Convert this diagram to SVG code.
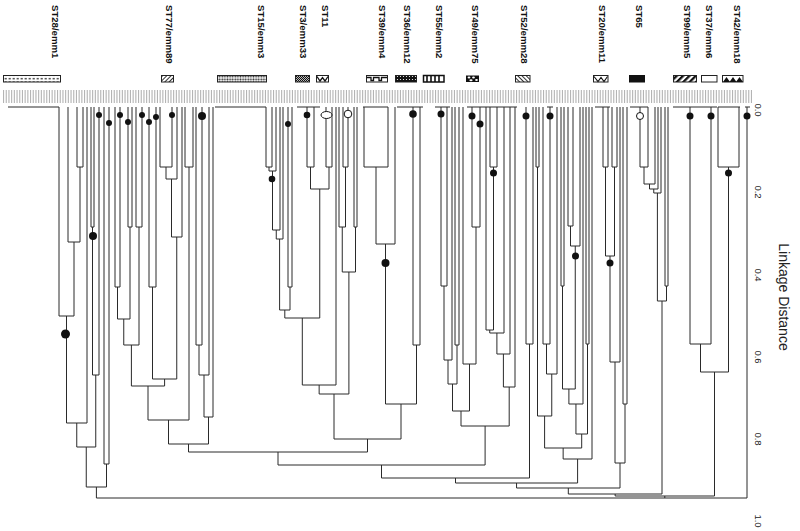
<svg xmlns="http://www.w3.org/2000/svg" width="800" height="531" viewBox="0 0 800 531">
<style>
.t{font-family:"Liberation Sans",Arial,sans-serif;font-weight:bold;font-size:9.6px;fill:#111}
.ax{font-family:"Liberation Sans",Arial,sans-serif;font-size:9.5px;fill:#222}
.lab{font-family:"Liberation Sans",Arial,sans-serif;font-size:14px;fill:#222}
.br{fill:none;stroke:#2a2a2a;stroke-width:1}
.sw{stroke:#222;stroke-width:1}
.dot{fill:#111}
.open{fill:#fff;stroke:#111;stroke-width:1}
</style>
<defs>
<pattern id="pDots" width="4" height="3.5" patternUnits="userSpaceOnUse"><rect width="4" height="3.5" fill="#fff"/><rect x="0.6" y="0.9" width="2.2" height="1.4" fill="#444"/></pattern>
<pattern id="pHatchA" width="3" height="3" patternUnits="userSpaceOnUse" patternTransform="rotate(45)"><rect width="3" height="3" fill="#fff"/><line x1="0.5" y1="0" x2="0.5" y2="3" stroke="#333" stroke-width="1"/></pattern>
<pattern id="pHatchB" width="3" height="3" patternUnits="userSpaceOnUse" patternTransform="rotate(-45)"><rect width="3" height="3" fill="#fff"/><line x1="0.5" y1="0" x2="0.5" y2="3" stroke="#333" stroke-width="1"/></pattern>
<pattern id="pThick" width="4.5" height="4.5" patternUnits="userSpaceOnUse" patternTransform="rotate(45)"><rect width="4.5" height="4.5" fill="#fff"/><rect width="2.3" height="4.5" fill="#111"/></pattern>
<pattern id="pChk" width="2.6" height="2.6" patternUnits="userSpaceOnUse"><rect width="2.6" height="2.6" fill="#fff"/><circle cx="1.3" cy="1.3" r="0.95" fill="#222"/></pattern>
<pattern id="pFine" width="2" height="2" patternUnits="userSpaceOnUse"><rect width="2" height="2" fill="#bbb"/><rect width="1" height="1" fill="#111"/><rect x="1" y="1" width="1" height="1" fill="#111"/></pattern>
<pattern id="pWdots" width="3" height="3" patternUnits="userSpaceOnUse"><rect width="3" height="3" fill="#111"/><circle cx="1.5" cy="1.5" r="0.6" fill="#fff"/></pattern>
</defs>
<rect width="800" height="531" fill="#fff"/>

<g id="titles">
<text class="t" transform="translate(51.5,5) rotate(90)">ST28/emm1</text>
<text class="t" transform="translate(166,5) rotate(90)">ST77/emm89</text>
<text class="t" transform="translate(257.5,5) rotate(90)">ST15/emm3</text>
<text class="t" transform="translate(300,5) rotate(90)">ST3/emm33</text>
<text class="t" transform="translate(321.5,5) rotate(90)">ST11</text>
<text class="t" transform="translate(378.5,5) rotate(90)">ST39/emm4</text>
<text class="t" transform="translate(404,5) rotate(90)">ST36/emm12</text>
<text class="t" transform="translate(435.5,5) rotate(90)">ST55/emm2</text>
<text class="t" transform="translate(471.5,5) rotate(90)">ST49/emm75</text>
<text class="t" transform="translate(520.5,5) rotate(90)">ST52/emm28</text>
<text class="t" transform="translate(598.5,5) rotate(90)">ST20/emm11</text>
<text class="t" transform="translate(635.5,5) rotate(90)">ST65</text>
<text class="t" transform="translate(683.5,5) rotate(90)">ST99/emm5</text>
<text class="t" transform="translate(705.5,5) rotate(90)">ST37/emm6</text>
<text class="t" transform="translate(733.5,5) rotate(90)">ST42/emm18</text>
</g>

<g id="swatches">
<rect class="sw" x="3.5" y="75.5" width="57" height="6.5" fill="url(#pDots)"/>
<rect class="sw" x="161.5" y="75.5" width="12" height="6.5" fill="url(#pHatchA)"/>
<rect class="sw" x="217.5" y="75.5" width="49" height="6.5" fill="url(#pChk)"/>
<rect class="sw" x="295.5" y="75.5" width="14" height="6.5" fill="url(#pFine)"/>
<g id="sw-st11"><rect class="sw" x="316.5" y="75.5" width="12" height="6.5" fill="#fff"/><path d="M317,76.5 L320,81 L322.5,77.5 L325,81 L328,76.5" fill="none" stroke="#111" stroke-width="1.3"/></g>
<g id="sw-st39"><rect class="sw" x="366.5" y="75.5" width="21" height="6.5" fill="#fff"/><path d="M367,77.5 H371 V80.5 H373.5 V77.5 H379 V80.5 H381.5 V77.5 H387" fill="none" stroke="#111" stroke-width="1.3"/></g>
<rect class="sw" x="395.5" y="75.5" width="21" height="6.5" fill="url(#pWdots)"/>
<g id="sw-st55"><rect x="423.5" y="75.5" width="20.5" height="6.5" fill="#fff" stroke="#111" stroke-width="1.5"/><path d="M427,76 V82 M431,76 V82 M435,76 V82 M439,76 V82" stroke="#111" stroke-width="1.6"/></g>
<g id="sw-st49"><rect x="466" y="75.5" width="13" height="6.5" fill="#111"/><ellipse cx="469" cy="77.6" rx="1.4" ry="1" fill="#fff"/><ellipse cx="473.5" cy="77.6" rx="1.4" ry="1" fill="#fff"/><ellipse cx="471" cy="80.2" rx="1.6" ry="1" fill="#fff"/><ellipse cx="476.5" cy="80" rx="1.4" ry="1" fill="#fff"/></g>
<rect class="sw" x="515.5" y="75.5" width="14.5" height="6.5" fill="url(#pHatchB)"/>
<g id="sw-st20"><rect class="sw" x="593.5" y="75.5" width="14.5" height="6.5" fill="#fff"/><path d="M594,76.5 L598,81.5 L601,77.5 L604,81.5 L607.5,76.5" fill="none" stroke="#111" stroke-width="1.1"/></g>
<rect x="629" y="75" width="16" height="7.5" fill="#111"/>
<rect class="sw" x="673.5" y="75.5" width="23" height="6.5" fill="url(#pThick)"/>
<rect class="sw" x="701.5" y="75.5" width="15.5" height="6.5" fill="#fff"/>
<g id="sw-st42"><rect class="sw" x="722.5" y="75.5" width="20.5" height="6.5" fill="#fff"/><path d="M723,82 L726.5,77 L730,82 Z M729.5,82 L733,77 L736.5,82 Z M736,82 L739.5,77 L743,82 Z" fill="#111"/></g>
</g>

<g id="leaf-labels" opacity="0.55">
<line x1="3" y1="96.5" x2="752" y2="96.5" stroke="#777" stroke-width="13" stroke-dasharray="1.1 1.6"/>
</g>

<g id="connectors" class="br">
<path d="M8,107H59 M215,107H266 M297,107H320 M363,107H388 M397,107H423 M435,107H450 M467,107H517 M547,107H553 M595,107H610 M630,107H648 M673,107H700 M700,107H717 M718,107H740 M745,107H750"/>
<path d="M77,107V167H83V107 M68,107V242H80V167 M59,107V316H74V242 M66.5,316V423H87V107 M91,107V227H94V107 M92.5,227V375H99V107 M76.75,423V447H95.75V375 M104,107V464H109V107 M86.25,447V487H106.5V464 M96.4,487V498H747V107"/>
<path d="M115,107V287H120V107 M128,107V227H132V107 M117.5,287V319H130V227 M136,107V227H142V107 M123.75,319V345H139V227 M149,107V287H156V107 M160,107V167H172V107 M166,167V179H177V107 M171.5,179V237H182V107 M152.5,287V379H176.75V237 M131.4,345V386H164.6V379 M185,107V167H193V107 M148,386V420H189V167 M196,107V345H202V107 M199,345V375H209V107 M204,375V417H213V107 M168.5,420V444H208.5V417"/>
<path d="M266,107V167H272V107 M269,167V171H276V107 M272.5,171V230H280V107 M276.25,230V239H283V107 M288,107V287H292V107 M279.6,239V310H290V287 M307,107V167H314V107 M326,107V167H332V107 M310.5,167V189H329V167 M284.8,310V318H319.75V189 M302.3,318V385H336V107 M343,107V167H348V107 M339,107V227H345.5V167 M354,107V227H357V107 M342.25,227V272H355.5V227 M319.15,385V394H348.9V272 M364,107V167H388V107 M376,167V244H395V107 M413,107V345H420V107 M385.5,244V404H416.5V345 M334,394V439H401V404 M188.5,444V452H367.5V439"/>
<path d="M441,107V286H447V107 M444,286V360H452V107 M455,107V345H459V107 M448,360V384H457V345 M472,107V227H480V107 M463,107V364H476V227 M452.5,384V411H469.5V364 M490,107V167H497V107 M486,107V330H493.5V167 M489.75,330V333H504V107 M496.9,333V354H510V107 M503.4,354V387H515V107 M461,411V426H509.2V387 M278,452V465H485.1V426"/>
<path d="M526,107V344H533V107 M381.5,465V478H529.5V344 M536,107V167H539V107 M543,107V344H550V107 M546.5,344V374H557V107 M537.5,167V416H551.75V374 M561,107V286H564V107 M568,107V226H573V107 M570.5,226V246H580V107 M562.5,286V389H575.25V246 M568.9,389V404H583V107 M586,107V344H589V107 M575.95,404V434H587.5V344 M544.6,416V448H581.7V434 M563.15,448V459H592V107 M455.5,478V483H577.6V459"/>
<path d="M603,107V167H608V107 M612,107V167H617V107 M605.5,167V256H614.5V167 M610,256V362H620V107 M623,107V404H627V107 M615,362V463H625V404 M516.55,483V488H620V463"/>
<path d="M640,107V167H648V107 M644,167V184H655V107 M649.5,184V189H658V107 M653.75,189V193H661V107 M665,107V286H668V107 M657.4,193V301H666.5V286 M568.3,488V494H662V301"/>
<path d="M690,107V344H711V107 M718,107V167H739V107 M700.5,344V372H728.5V167 M615.15,494V496H714.5V372 M664.8,496V498"/>
</g>

<g id="markers">
<circle class="dot" cx="99" cy="115" r="3"/>
<circle class="dot" cx="109" cy="123" r="3"/>
<circle class="dot" cx="120" cy="115" r="3"/>
<circle class="dot" cx="128" cy="122" r="3"/>
<circle class="dot" cx="142" cy="115" r="3"/>
<circle class="dot" cx="149" cy="122" r="3"/>
<circle class="dot" cx="156" cy="117" r="3"/>
<circle class="dot" cx="172" cy="115" r="3"/>
<circle class="dot" cx="202" cy="116" r="4"/>
<circle class="dot" cx="93" cy="236" r="4"/>
<circle class="dot" cx="65.5" cy="334" r="4.5"/>
<circle class="dot" cx="272" cy="179" r="3.3"/>
<circle class="dot" cx="288" cy="124" r="3"/>
<circle class="dot" cx="307" cy="115" r="3.3"/>
<ellipse class="open" cx="326.5" cy="115" rx="5.5" ry="3.5"/>
<circle class="open" cx="348" cy="114" r="3.8"/>
<circle class="dot" cx="385.5" cy="263" r="4"/>
<circle class="dot" cx="413" cy="114" r="3.8"/>
<circle class="dot" cx="441" cy="114" r="3.5"/>
<circle class="dot" cx="472" cy="116" r="3.5"/>
<circle class="dot" cx="480" cy="124" r="3.5"/>
<circle class="dot" cx="493.5" cy="173" r="3.5"/>
<circle class="dot" cx="526" cy="116" r="3.5"/>
<circle class="dot" cx="550" cy="116" r="3.5"/>
<circle class="dot" cx="575.5" cy="256" r="3.5"/>
<circle class="dot" cx="610" cy="263" r="3.5"/>
<circle class="open" cx="640" cy="116" r="3.5"/>
<circle class="dot" cx="690" cy="116" r="3.5"/>
<circle class="dot" cx="711" cy="116" r="3.5"/>
<circle class="dot" cx="728.5" cy="173" r="3.5"/>
<circle class="dot" cx="747" cy="116" r="3.5"/>
</g>

<g id="axis">
<text class="ax" text-anchor="middle" transform="translate(755,110) rotate(90)">0.0</text>
<text class="ax" text-anchor="middle" transform="translate(755,192) rotate(90)">0.2</text>
<text class="ax" text-anchor="middle" transform="translate(755,275) rotate(90)">0.4</text>
<text class="ax" text-anchor="middle" transform="translate(755,357) rotate(90)">0.6</text>
<text class="ax" text-anchor="middle" transform="translate(755,439) rotate(90)">0.8</text>
<text class="ax" text-anchor="middle" transform="translate(755,521) rotate(90)">1.0</text>
<text class="lab" text-anchor="middle" transform="translate(779,297) rotate(90)">Linkage Distance</text>
</g>
</svg>
